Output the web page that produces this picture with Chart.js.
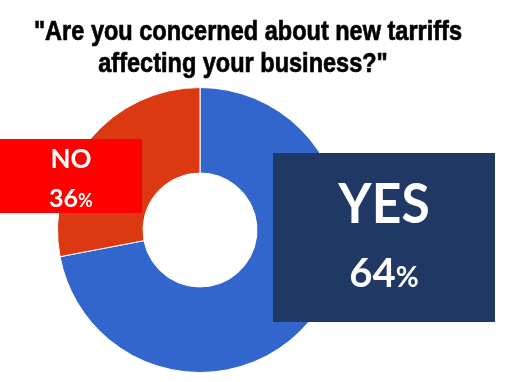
<!DOCTYPE html>
<html>
<head>
<meta charset="utf-8">
<script src="https://cdn.jsdelivr.net/npm/chart.js@4.4.1/dist/chart.umd.min.js"></script>
<style>
  html, body { margin: 0; padding: 0; background: #ffffff; }
  #wrap { width: 510px; height: 382px; position: relative; }
</style>
</head>
<body>
<div id="wrap"><canvas id="donut"></canvas></div>
<script>
const categories = ['YES', 'NO'];
const sliceValues = [72, 28];          // share of the ring as drawn
const percentLabels = ['64', '36'];    // percentages printed in the boxes
const sliceColors = ['#3366CC', '#DC3912'];
const titleLines = ['"Are you concerned about new tarriffs', 'affecting your business?"'];

// condensed look: squeeze a normal bold face horizontally
function narrowText(ctx, text, cx, y, squeeze, stroke) {
    const tw = ctx.measureText(text).width;
    ctx.save();
    ctx.translate(cx - tw * squeeze / 2, y);
    ctx.scale(squeeze, 1);
    ctx.textAlign = 'left';
    ctx.fillText(text, 0, 0);
    if (stroke) {
        ctx.lineWidth = stroke;
        ctx.strokeStyle = ctx.fillStyle;
        ctx.strokeText(text, 0, 0);
    }
    ctx.restore();
}

// title + label boxes drawn on top of the doughnut
const overlayPlugin = {
    id: 'overlay',
    afterDraw(chart) {
        const ctx = chart.ctx;
        ctx.save();

        // title
        ctx.fillStyle = '#000000';
        ctx.textBaseline = 'alphabetic';
        ctx.font = 'bold 28px "Liberation Sans", Arial, sans-serif';
        narrowText(ctx, titleLines[0], 248, 40, 0.84, 0.7);
        narrowText(ctx, titleLines[1], 243, 72, 0.84, 0.7);

        const drawBox = (x, y, bw, bh, color, name, pct, nameSize, pctSize, nameBase, pctBase, squeeze) => {
            ctx.fillStyle = color;
            ctx.fillRect(x, y, bw, bh);
            ctx.fillStyle = '#ffffff';
            const cx = x + bw / 2;
            const face = 'Lato, "Open Sans", sans-serif';
            ctx.font = 'bold ' + nameSize + 'px ' + face;
            narrowText(ctx, name, cx, y + nameBase, squeeze);
            ctx.font = 'bold ' + pctSize + 'px ' + face;
            const dw = ctx.measureText(pct).width;
            ctx.font = 'bold ' + Math.round(pctSize * 0.7) + 'px ' + face;
            const sw = ctx.measureText('%').width;
            const start = cx - (dw + sw) / 2;
            ctx.textAlign = 'left';
            ctx.font = 'bold ' + pctSize + 'px ' + face;
            ctx.fillText(pct, start, y + pctBase);
            ctx.font = 'bold ' + Math.round(pctSize * 0.7) + 'px ' + face;
            ctx.fillText('%', start + dw, y + pctBase);
        };

        const area = chart.chartArea;
        // NO box sits over the left of the ring, YES box over the right
        drawBox(0, area.top + 52, 142, 74, '#FF0000', categories[1], percentLabels[1], 26, 25, 29, 68, 1);
        drawBox(area.right - 70, area.top + 66, 222, 169, '#203864', categories[0], percentLabels[0], 56, 40, 70, 134, 0.92);

        ctx.restore();
    }
};

new Chart(document.getElementById('donut'), {
    type: 'doughnut',
    data: {
        labels: categories,
        datasets: [{
            data: sliceValues,
            backgroundColor: sliceColors,
            borderColor: '#ffffff',
            borderWidth: 1
        }]
    },
    options: {
        responsive: true,
        maintainAspectRatio: false,
        animation: false,
        cutout: '40%',
        layout: {
            padding: { top: 87, bottom: 9, left: 57, right: 167 }
        },
        plugins: {
            legend: { display: false },
            title: { display: false },
            tooltip: { enabled: false }
        }
    },
    plugins: [overlayPlugin]
});
</script>
</body>
</html>
